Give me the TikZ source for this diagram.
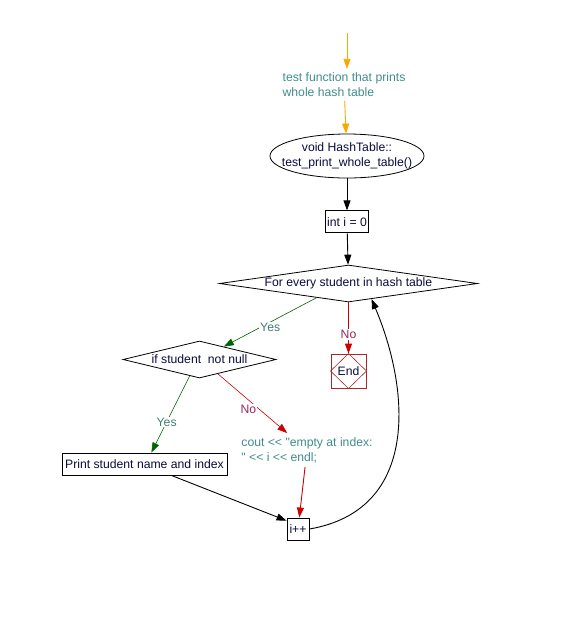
\documentclass[tikz,border=0pt]{standalone}
\usepackage{fontspec}
\newfontfamily\flowfont{Liberation Sans}
\usetikzlibrary{shapes.geometric, arrows.meta, positioning}
\definecolor{notecol}{RGB}{64,140,140}
\definecolor{yestext}{RGB}{64,128,112}
\definecolor{notext}{RGB}{150,40,90}
\definecolor{yescol}{RGB}{0,100,0}
\definecolor{nocol}{RGB}{204,0,0}
\definecolor{startcol}{RGB}{255,165,0}
\definecolor{endcol}{RGB}{170,40,40}
\definecolor{inkcol}{RGB}{10,10,60}
\begin{document}
\begin{tikzpicture}[x=1pt, y=-1pt, font=\flowfont\fontsize{12.2}{15}\selectfont, text=inkcol]
\tikzstyle{block}=[rectangle, draw=black, line width=0.9pt, inner sep=2pt, minimum height=22pt]
\tikzstyle{decision}=[diamond, draw=black, line width=0.8pt, inner sep=0pt, minimum height=37pt]
\tikzstyle{note}=[align=left, text=notecol, inner sep=4pt]
\tikzstyle{connect}=[-{Triangle[length=10pt,width=7pt]}, line width=0.9pt]
\tikzstyle{lbl}=[fill=white, inner sep=1pt]
    \useasboundingbox (0,0) rectangle (572,633);
    \coordinate (top) at (347,33);
    \node[note] (intro) at (344,85) {test function that prints\\whole hash table};
    \node[ellipse, draw=black, line width=0.8pt, minimum width=154pt, minimum height=44pt,
          label={[align=center]center:void HashTable::\\test\_print\_whole\_table()}] (func) at (347,156) {};
    \node[block] (init) [below=32pt of func] {int i = 0};
    \node[decision, aspect=7, minimum width=258pt] (loop) at (348.5,283.5) {For every student in hash table};
    \node[decision, aspect=4.8, minimum width=153pt] (test) at (199.5,359.5) {if student\ \ not null};
    \node[rectangle, draw=endcol, line width=0.9pt, minimum width=35pt, minimum height=34pt, inner sep=0pt] (end) at (348.5,371) {End};
    \draw[endcol, line width=0.6pt] (end.north) -- (end.east) -- (end.south) -- (end.west) -- cycle;
    \node[block, minimum width=165pt] (print) at (144.5,464) {Print student name and index};
    \node[note] (cout) at (307,450) {cout <{}< "empty at index:\\" <{}< i <{}< endl;};
    \node[block, minimum width=22pt, inner sep=0pt] (iplus) at (298,529) {i++};
    \path (top) edge [connect, startcol] (top |- intro.north)
          (intro) edge [connect, startcol] (func)
          (func) edge [connect] (init)
          (init) edge [connect] (loop)
          (loop.-156) edge [connect, yescol, line width=0.6pt] node[lbl, text=yestext, pos=0.5, yshift=-5pt] {Yes} (test.28)
          (loop) edge [connect, nocol, line width=1.1pt] node[lbl, text=notext, pos=0.63] {No} (end)
          (test.-121) edge [connect, yescol, line width=0.6pt] node[lbl, text=yestext, pos=0.6] {Yes} (print.59)
          (test.-38) edge [connect, nocol, line width=0.6pt] node[lbl, text=notext, pos=0.44, yshift=-9pt] {No} (cout)
          (cout) edge [connect, nocol] (iplus)
          (print.-23) edge [connect] (iplus.144);
    \draw[connect] (iplus.east) .. controls (420,510) and (410,390) .. (loop.-34);
\end{tikzpicture}
\end{document}
